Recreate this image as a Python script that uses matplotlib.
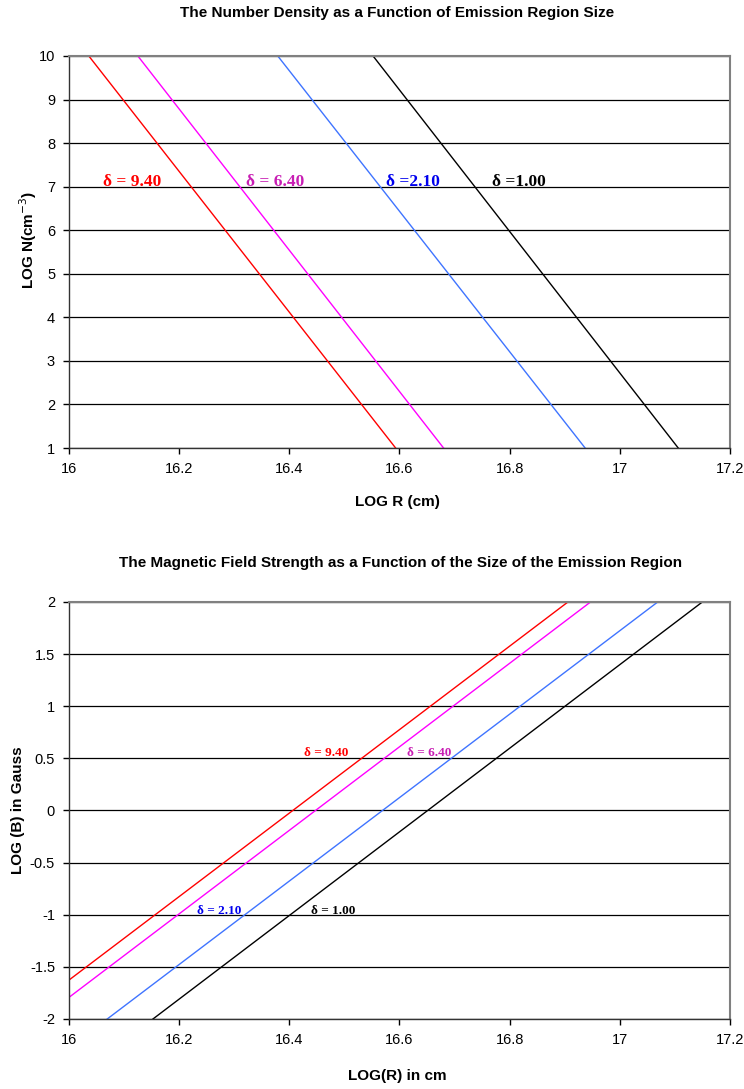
import numpy as np
import matplotlib.pyplot as plt

plt.rcParams['font.family'] = ['Liberation Sans', 'DejaVu Sans']

# Плотность: LOG N от LOG R (концы линий)
n_labels = ['δ = 9.40', 'δ = 6.40', 'δ =2.10', 'δ =1.00']
n_y = [10, 1]
n_x_red = [16.036, 16.593]
n_x_mag = [16.125, 16.680]
n_x_blue = [16.379, 16.937]
n_x_black = [16.552, 17.106]

# Магнитное поле: LOG B от LOG R
b_labels = ['δ = 9.40', 'δ = 6.40', 'δ = 2.10', 'δ = 1.00']
b_x_red = [16.0, 16.906]
b_y_red = [-1.627, 2.0]
b_x_mag = [16.0, 16.947]
b_y_mag = [-1.793, 2.0]
b_x_blue = [16.0695, 17.069]
b_y_blue = [-2.0, 2.0]
b_x_black = [16.1525, 17.150]
b_y_black = [-2.0, 2.0]

line_colors = ['#ff0000', '#ff00ff', '#3f74ff', '#000000']
text_colors = ['#ff0000', '#c81eb4', '#0000ee', '#000000']

W, H = 744, 1089
fig = plt.figure(figsize=(7.44, 10.89), dpi=100)
ax1 = fig.add_axes([0.0927, 0.5886, 0.8885, 0.36])
ax2 = fig.add_axes([0.0927, 0.0643, 0.8885, 0.383])


def style_axes(ax):
    for side in ['top', 'right']:
        ax.spines[side].set_color('#808080')
        ax.spines[side].set_linewidth(1.5)
    for side in ['left', 'bottom']:
        ax.spines[side].set_color('#333333')
        ax.spines[side].set_linewidth(1.0)
    ax.set_xlim(16, 17.2)
    ax.set_xticks(np.arange(16, 17.21, 0.2))
    ax.set_xticklabels(['16', '16.2', '16.4', '16.6', '16.8', '17', '17.2'])
    ax.tick_params(direction='out', length=4, width=1, labelsize=10.5, pad=6)
    ax.grid(axis='y', color='black', linewidth=0.9)
    ax.set_axisbelow(True)


def ftext(x, y, s, **kw):
    # позиция в пикселях от левого верхнего угла
    fig.text(x / W, 1 - y / H, s, ha='center', va='center', **kw)


# верхний график
style_axes(ax1)
ax1.set_ylim(1, 10)
ax1.set_yticks(range(1, 11))
for xs, c in zip([n_x_red, n_x_mag, n_x_blue, n_x_black], line_colors):
    ax1.plot(xs, n_y, color=c, linewidth=1)
for lab, x, c in zip(n_labels, [16.062, 16.322, 16.575, 16.768], text_colors):
    ax1.text(x, 7.1, lab, color=c, fontsize=12.5, fontweight='bold',
             family=['Liberation Serif', 'DejaVu Serif'], va='center')
ftext(397, 13, 'The Number Density as a Function of Emission Region Size',
      fontsize=11, fontweight='bold')
ftext(397, 502, 'LOG R (cm)', fontsize=11, fontweight='bold')
ftext(28, 240, 'LOG N(cm$^{-3}$)', fontsize=11, fontweight='bold', rotation=90)

# нижний график
style_axes(ax2)
ax2.set_ylim(-2, 2)
ax2.set_yticks(np.arange(-2, 2.01, 0.5))
ax2.set_yticklabels(['-2', '-1.5', '-1', '-0.5', '0', '0.5', '1', '1.5', '2'])
for xs, ys, c in zip([b_x_red, b_x_mag, b_x_blue, b_x_black],
                     [b_y_red, b_y_mag, b_y_blue, b_y_black], line_colors):
    ax2.plot(xs, ys, color=c, linewidth=1)
for lab, x, y, c in zip(b_labels, [16.427, 16.614, 16.233, 16.440],
                        [0.55, 0.55, -0.96, -0.96], text_colors):
    ax2.text(x, y, lab, color=c, fontsize=9.5, fontweight='bold',
             family=['Liberation Serif', 'DejaVu Serif'], va='center')
ftext(401, 563, 'The Magnetic Field Strength as a Function of the Size of the Emission Region',
      fontsize=11, fontweight='bold')
ftext(397, 1076, 'LOG(R) in cm', fontsize=11, fontweight='bold')
ftext(18, 810, 'LOG (B) in Gauss', fontsize=11, fontweight='bold', rotation=90)

fig.savefig('out.png', dpi=100)
